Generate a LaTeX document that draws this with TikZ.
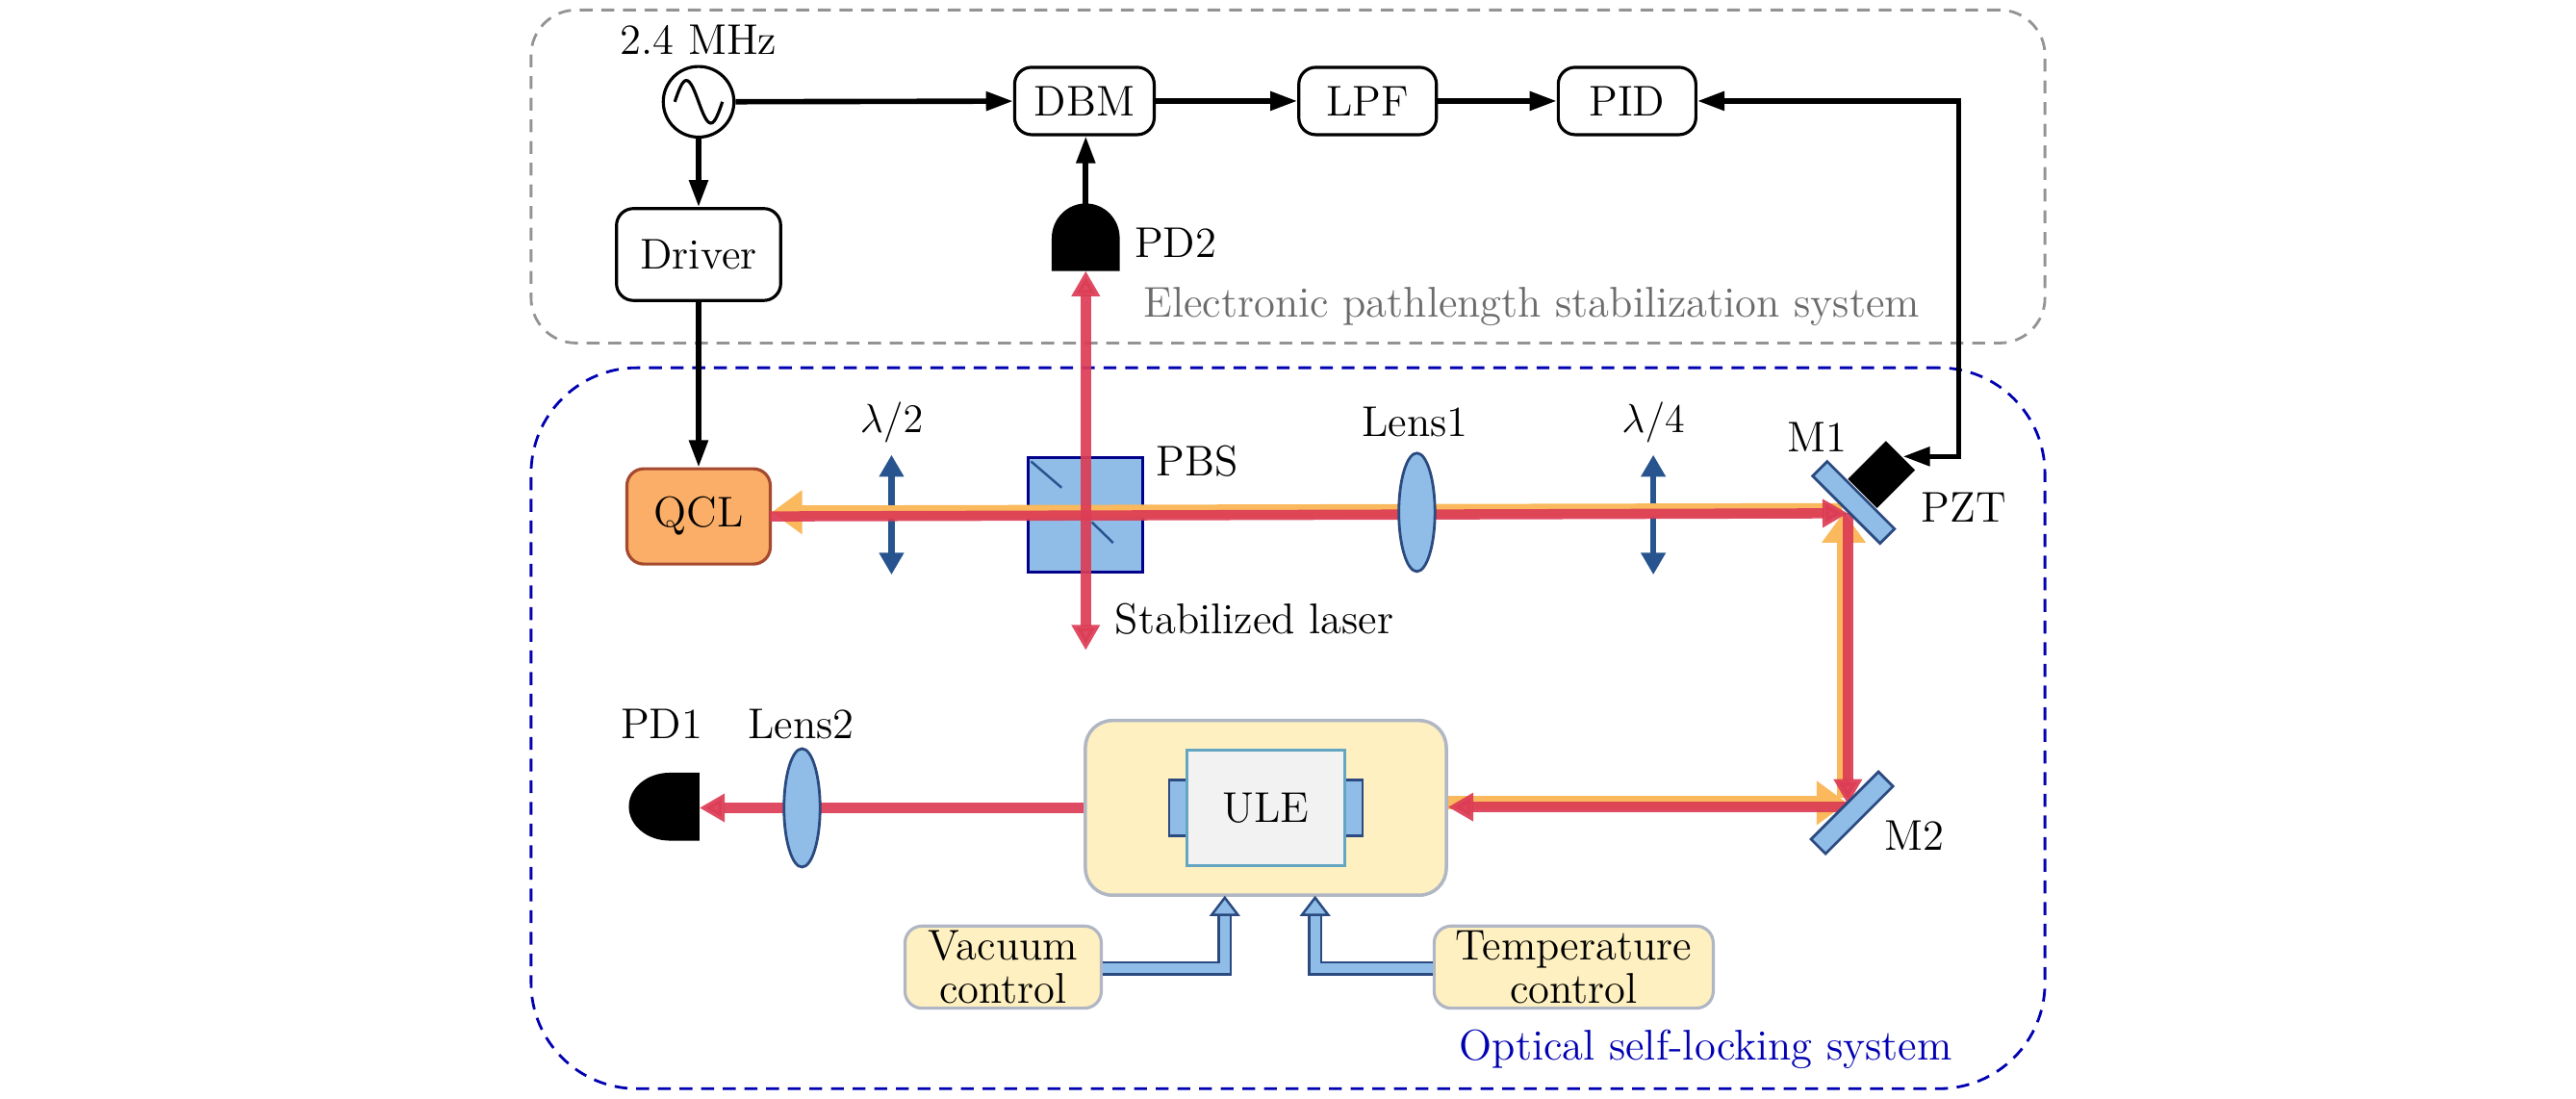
\documentclass[tikz,border=0pt]{standalone}
\usepackage{amsmath}
\usetikzlibrary{arrows.meta,shapes.geometric}

\definecolor{beamred}{HTML}{DC3C55}
\definecolor{beamorange}{HTML}{F9B95C}
\definecolor{optblue}{HTML}{8FBDE8}
\definecolor{optedge}{HTML}{2B4A80}
\definecolor{waveblue}{HTML}{27548F}
\definecolor{paleyellow}{HTML}{FEF0C0}
\definecolor{paleedge}{HTML}{B0B6C4}
\definecolor{qclfill}{HTML}{FBAE67}
\definecolor{qcledge}{HTML}{A5492F}

\newcommand{\labelfont}{\fontsize{12.7}{13}\selectfont}

\tikzset{
    label text/.style = {font=\labelfont, inner sep=0pt, align=center},
    block/.style = {label text, draw=black, line width=0.9pt, rounded corners=5pt, fill=white},
    signal/.style = {line width=1.6pt, -{Triangle[length=8pt,width=5.4pt]}},
    redbeam/.style = {draw=beamred, line width=3pt, opacity=0.92},
    redhead/.style = {-{Triangle[length=7.5pt,width=8pt]}},
    orangebeam/.style = {draw=beamorange, line width=4pt},
    orangehead/.style = {-{Triangle[length=9pt,width=12.5pt]}},
    wave/.style = {draw=waveblue, line width=1.8pt, {Triangle[length=6.5pt,width=7pt]}-{Triangle[length=6.5pt,width=7pt]}},
    lens/.style = {ellipse, draw=optedge, line width=0.8pt, fill=optblue, inner sep=0pt, minimum width=0.375cm, minimum height=1.23cm},
    mirror/.style = {draw=optedge, line width=0.8pt, fill=optblue, inner sep=0pt, minimum width=0.99cm, minimum height=0.213cm},
    pipe/.style = {draw=optedge, line width=0.7pt, double=optblue, double distance=2.9pt,
        -{Triangle[length=6pt,width=9pt,fill=optblue]}},
    control/.style = {label text, draw=paleedge, line width=0.9pt, fill=paleyellow, rounded corners=5pt,
        minimum width=2.04cm, minimum height=0.853cm}
}

\begin{document}
\begin{tikzpicture}[x=0.01706cm, y=-0.01706cm]
    \useasboundingbox (0,0) rectangle (1569,669);

    % system frames
    \node[draw=gray!85, line width=0.8pt, rounded corners=0.47cm, dash pattern=on 3.8pt off 2.6pt,
        minimum width=15.73cm, minimum height=3.46cm, inner sep=0pt] (elecframe) at (784.5,107.5) {};
    \node[draw=blue!70!black, line width=0.8pt, rounded corners=1.1cm, dash pattern=on 3.8pt off 2.6pt,
        minimum width=15.73cm, minimum height=7.49cm, inner sep=0pt] (optframe) at (784.5,443.5) {};
    \node[label text, text=black!58] (electext) at (933,187) {Electronic pathlength stabilization system};
    \node[label text, text=blue!70!black] (opttext) at (1039,639) {Optical self-locking system};

    % electronics
    \node[circle, draw=black, line width=0.9pt, minimum size=0.734cm, inner sep=0pt] (osc) at (425.5,62) {};
    \draw[line width=0.9pt] (411,62) sin (418,49) cos (425.5,62) sin (433,75) cos (440,62);
    \node[label text] (osctext) at (425.5,24) {2.4 MHz};
    \node[block, minimum width=1.706cm, minimum height=0.955cm] (driver) at (425.5,155) {Driver};
    \node[block, minimum width=1.45cm, minimum height=0.7cm] (dbm) at (660.5,61.5) {DBM};
    \node[block, minimum width=1.43cm, minimum height=0.7cm] (lpf) at (833,61.5) {LPF};
    \node[block, minimum width=1.43cm, minimum height=0.7cm] (pid) at (991,61.5) {PID};

    \fill (640.6,165) -- (640.6,145) arc[start angle=180, end angle=0, x radius=0.353cm, y radius=0.36cm]
        -- (682,165) -- cycle;
    \coordinate (pdtwo) at (661.3,165);
    \coordinate (pdtwotop) at (661.3,124);
    \node[label text] (pdtwotext) at (716,148) {PD2};

    \fill (426,470.6) -- (408,470.6) arc[start angle=90, end angle=270, x radius=0.4265cm, y radius=0.353cm]
        -- (426,512) -- cycle;
    \coordinate (pdone) at (426,492);
    \node[label text] (pdonetext) at (403,441) {PD1};

    % optics
    \node[block, draw=qcledge, fill=qclfill, minimum width=1.49cm, minimum height=0.99cm] (qcl) at (425.5,314.5) {QCL};
    \node[draw=blue!55!black, line width=0.7pt, fill=optblue, minimum size=1.19cm, inner sep=0pt] (pbs) at (661,313.5) {};
    \draw[draw=waveblue, line width=0.7pt] (628,281) -- (646.6,297) (665,318) -- (678,330.6);
    \node[label text] (pbstext) at (729,281) {PBS};
    \coordinate (wavetwotop) at (543,277);
    \coordinate (wavetwobot) at (543,350);
    \draw[wave] (wavetwobot) -- (wavetwotop);
    \node[label text] (wavetwotext) at (543,257) {$\lambda/2$};
    \coordinate (wavefourtop) at (1007,277);
    \coordinate (wavefourbot) at (1007,350);
    \draw[wave] (wavefourbot) -- (wavefourtop);
    \node[label text] (wavefourtext) at (1007,257) {$\lambda/4$};
    \node[label text] (lensonetext) at (862,257) {Lens1};
    \node[label text] (lenstwotext) at (488,441) {Lens2};

    % cavity
    \node[draw=paleedge, line width=1pt, fill=paleyellow, rounded corners=0.28cm,
        minimum width=3.75cm, minimum height=1.815cm, inner sep=0pt] (cavity) at (771,492) {};
    \node[draw=optedge, line width=0.7pt, fill=optblue, minimum width=0.2cm, minimum height=0.58cm, inner sep=0pt] (mirl) at (718,492) {};
    \node[draw=optedge, line width=0.7pt, fill=optblue, minimum width=0.2cm, minimum height=0.58cm, inner sep=0pt] (mirr) at (824,492) {};
    \node[label text, draw=cyan!50!gray, line width=1pt, fill=black!5, minimum width=1.64cm, minimum height=1.2cm] (ule) at (771,492) {ULE};

    \node[control] (vacuum) at (611,589) {Vacuum\\control};
    \node[control, minimum width=2.9cm] (temp) at (958.5,589) {Temperature\\control};
    \coordinate (cavvac) at (746,545.5);
    \coordinate (cavtemp) at (801,545.5);
    \draw[pipe] (vacuum.east |- 0,589.7) -| (cavvac);
    \draw[pipe] (temp.west |- 0,589.7) -| (cavtemp);

    % beams
    \coordinate (qclin) at (470,312);
    \coordinate (qclred) at (469,314.5);
    \coordinate (mone) at (1125.5,312.6);
    \coordinate (moneup) at (1123,312);
    \coordinate (mtwo) at (1125.5,490);
    \coordinate (mtworight) at (1125,489);
    \coordinate (cavout) at (cavity.east |- 0,491.5);
    \draw[orangebeam, orangehead] (1122,310.5) -- (qclin);
    \draw[orangebeam, orangehead] (1123,486) -- (moneup);
    \draw[orangebeam, orangehead] (cavout) ++(0,-2.5) -- (mtworight);
    \draw[redbeam, redhead] (qclred) -- (mone);
    \draw[redbeam, redhead] (mone) -- (mtwo);
    \draw[redbeam, redhead] (mtwo |- 0,491.5) -- (cavout);
    \draw[redbeam, {Triangle[length=7.5pt,width=8pt]}-{Triangle[length=7.5pt,width=8pt]}] (pdtwo) -- (661.3,396);
    \draw[redbeam, redhead] (cavity.west |- pdone) -- (pdone);
    \node[label text] (stabtext) at (764,377) {Stabilized laser};

    \node[lens] (lensone) at (863,312) {};
    \node[lens] (lenstwo) at (488.5,492) {};

    \node[mirror, rotate=-45] (mirrorone) at (1129,306) {};
    \node[mirror, rotate=45] (mirrortwo) at (1128,495) {};
    \node[fill=black, rotate=-45, minimum width=0.4265cm, minimum height=0.558cm, inner sep=0pt] (pzt) at (1146,289) {};
    \node[label text] (monetext) at (1107,266) {M1};
    \node[label text] (mtwotext) at (1166,509) {M2};
    \node[label text] (pzttext) at (1196,309) {PZT};

    % signals
    \coordinate (pztin) at (1159,278);
    \coordinate (fbcorner) at (1193,278);
    \draw[signal] (osc) -- (dbm);
    \draw[signal] (osc) -- (driver);
    \draw[signal] (driver) -- (qcl);
    \draw[signal] (dbm) -- (lpf);
    \draw[signal] (lpf) -- (pid);
    \draw[signal] (pdtwotop) -- (dbm.south -| pdtwotop);
    \draw[line width=1.6pt, {Triangle[length=8pt,width=5.4pt]}-{Triangle[length=8pt,width=5.4pt]}]
        (pid) -| (fbcorner) -- (pztin);
\end{tikzpicture}
\end{document}
